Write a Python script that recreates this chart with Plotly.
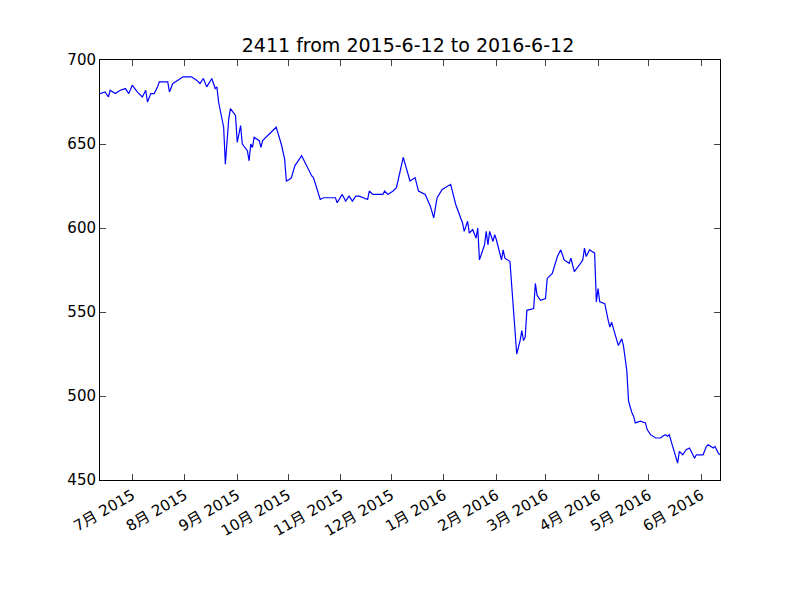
import datetime
import plotly.graph_objects as go

start = datetime.date(2015, 6, 12)

# trading days since 2015-6-12, and closing prices
day_offsets = [0, 3, 5, 6, 9, 12, 15, 17, 19, 22, 25, 27, 28, 30, 32, 34, 35, 40, 41, 43,
               46, 49, 54, 57, 59, 61, 63, 66, 68, 69, 70, 73, 74, 76, 77, 80, 81, 83, 84, 87,
               88, 89, 90, 91, 94, 95, 96, 104, 107, 109, 110, 112, 113, 115, 117, 119, 122, 125, 126, 129,
               130, 132, 139, 140, 143, 145, 147, 149, 151, 153, 158, 159, 161, 167, 168, 170, 173, 175, 179, 183,
               186, 188, 192, 195, 197, 199, 202, 207, 210, 214, 215, 217, 218, 220, 222, 223, 224, 227, 228, 229,
               230, 232, 233, 234, 237, 238, 239, 242, 243, 246, 248, 249, 250, 251, 252, 256, 257, 258, 260, 263,
               264, 267, 270, 272, 274, 277, 278, 280, 283, 285, 286, 287, 289, 292, 293, 294, 295, 298, 300, 301,
               302, 304, 306, 308, 309, 311, 312, 314, 315, 316, 319, 322, 323, 325, 328, 331, 332, 334, 335, 336,
               338, 339, 341, 342, 344, 346, 348, 351, 352, 356, 358, 359, 362, 363, 365, 366]
prices = [680, 681, 678, 682, 680, 682, 683, 680, 685, 681, 678, 682, 675, 680, 680, 684, 687, 687, 681, 686,
          688, 690, 690, 688, 686, 689, 684, 689, 683, 684, 675, 660, 638, 665, 671, 667, 651, 661, 650, 646,
          640, 650, 648, 654, 652, 648, 652, 660, 650, 641, 628, 629, 630, 637, 640, 643, 637, 631, 630, 620,
          617, 618, 618, 615, 620, 616, 619, 616, 619, 619, 617, 622, 620, 620, 622, 620, 622, 624, 642, 628,
          630, 622, 620, 613, 606, 618, 623, 626, 614, 603, 598, 604, 597, 599, 594, 600, 581, 590, 598, 590,
          598, 592, 596, 593, 581, 587, 582, 580, 565, 525, 533, 539, 533, 535, 551, 552, 567, 560, 557, 558,
          570, 573, 583, 587, 581, 579, 582, 574, 578, 581, 588, 583, 587, 585, 556, 564, 556, 555, 545, 541,
          544, 537, 530, 534, 530, 515, 497, 490, 488, 484, 485, 484, 480, 477, 475, 475, 476, 477, 476, 477,
          470, 466, 460, 467, 465, 468, 469, 463, 465, 465, 470, 471, 469, 470, 466, 465]

tick_dates = ["2015-07-01", "2015-08-01", "2015-09-01", "2015-10-01", "2015-11-01", "2015-12-01",
              "2016-01-01", "2016-02-01", "2016-03-01", "2016-04-01", "2016-05-01", "2016-06-01"]
tick_labels = ["7月 2015", "8月 2015", "9月 2015", "10月 2015", "11月 2015", "12月 2015",
               "1月 2016", "2月 2016", "3月 2016", "4月 2016", "5月 2016", "6月 2016"]

dates = [start + datetime.timedelta(days=d) for d in day_offsets]

fig = go.Figure(go.Scatter(x=dates, y=prices, mode="lines",
                           line=dict(color="#0000ff", width=1.2)))

fig.update_layout(
    width=800, height=600,
    title=dict(text="2411 from 2015-6-12 to 2016-6-12", x=0.5, xanchor="center",
               y=0.937, yanchor="middle", font=dict(size=19, color="black")),
    font=dict(family="DejaVu Sans, Noto Sans CJK SC", size=15, color="black"),
    margin=dict(l=92, r=88, t=52, b=128),
    plot_bgcolor="white", paper_bgcolor="white",
    showlegend=False,
)
fig.update_xaxes(range=["2015-06-12", "2016-06-12"], tickvals=tick_dates, ticktext=tick_labels,
                 tickangle=-30, ticks="inside", ticklen=6, showgrid=False, zeroline=False,
                 showline=True, linecolor="black", mirror="ticks")
fig.update_yaxes(range=[450, 700], dtick=50, ticks="inside", ticklen=6, showgrid=False,
                 zeroline=False, showline=True, linecolor="black", mirror="ticks")

fig.write_html("out.html")
